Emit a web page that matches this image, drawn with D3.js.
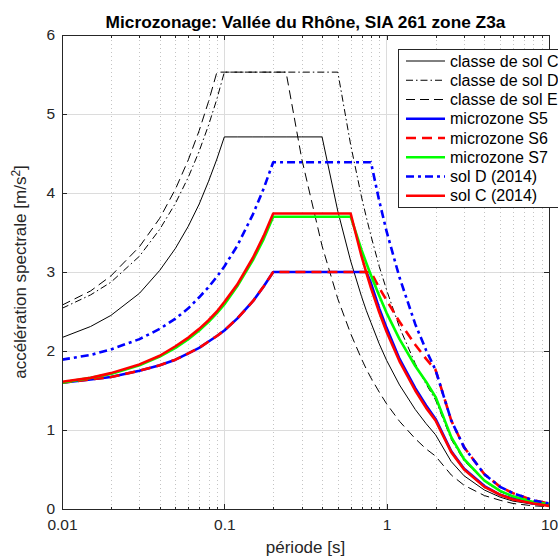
<!DOCTYPE html>
<html>
  <head>
    <meta charset="utf-8">
    <title>Microzonage: Vallée du Rhône</title>
    <script src="https://cdn.jsdelivr.net/npm/d3@7"></script>
    <style>
      body { margin: 0; background: #fff; }
      svg { display: block; font-family: "Liberation Sans", Arial, sans-serif; }
      .axis path, .axis line { stroke: #262626; shape-rendering: crispEdges; }
      .axis text { fill: #262626; font-size: 15.5px; font-family: "Liberation Sans", Arial, sans-serif; }
      .grid line { shape-rendering: crispEdges; }
      .label { fill: #262626; font-size: 17px; }
      .title { fill: #000; font-size: 17.3px; font-weight: bold; }
      .legend text { fill: #000; font-size: 16px; }
    </style>
  </head>
  <body>
    <svg id="chart" width="558" height="558"></svg>
    <script>
      // periods [s], shared by every spectrum
      const periods = [0.01, 0.015, 0.02, 0.03, 0.04, 0.05, 0.06, 0.07, 0.08, 0.09, 0.1, 0.12, 0.15, 0.175, 0.2, 0.24, 0.3, 0.4, 0.5, 0.6, 0.7, 0.75, 0.8, 0.9, 1.0, 1.2, 1.5, 1.75, 2.0, 2.5, 3, 4, 5, 6, 8, 10];
      // spectral accelerations [m/s2]
      const classeC = [2.17, 2.31, 2.45, 2.73, 3.02, 3.30, 3.58, 3.86, 4.15, 4.43, 4.71, 4.71, 4.71, 4.71, 4.71, 4.71, 4.71, 4.71, 3.77, 3.14, 2.69, 2.51, 2.36, 2.09, 1.88, 1.57, 1.26, 1.08, 0.94, 0.60, 0.42, 0.24, 0.15, 0.10, 0.06, 0.04];
      const classeD = [2.54, 2.71, 2.87, 3.20, 3.54, 3.87, 4.20, 4.53, 4.86, 5.19, 5.53, 5.53, 5.53, 5.53, 5.53, 5.53, 5.53, 5.53, 5.53, 4.61, 3.95, 3.69, 3.46, 3.07, 2.77, 2.30, 1.84, 1.58, 1.38, 0.88, 0.61, 0.35, 0.22, 0.15, 0.09, 0.06];
      const classeE = [2.58, 2.76, 2.95, 3.32, 3.68, 4.05, 4.42, 4.79, 5.16, 5.53, 5.53, 5.53, 5.53, 5.53, 5.53, 5.53, 4.43, 3.33, 2.66, 2.22, 1.90, 1.77, 1.66, 1.48, 1.33, 1.11, 0.89, 0.76, 0.67, 0.43, 0.30, 0.17, 0.11, 0.07, 0.04, 0.03];
      const microS5 = [1.60, 1.64, 1.67, 1.75, 1.82, 1.89, 1.97, 2.04, 2.12, 2.19, 2.26, 2.41, 2.63, 2.82, 3.00, 3.00, 3.00, 3.00, 3.00, 3.00, 3.00, 3.00, 2.86, 2.54, 2.29, 1.90, 1.53, 1.31, 1.14, 0.73, 0.51, 0.29, 0.18, 0.13, 0.07, 0.05];
      const microS6 = [1.60, 1.64, 1.67, 1.75, 1.82, 1.89, 1.97, 2.04, 2.12, 2.19, 2.26, 2.41, 2.63, 2.82, 3.00, 3.00, 3.00, 3.00, 3.00, 3.00, 3.00, 3.00, 3.00, 2.80, 2.64, 2.37, 2.08, 1.90, 1.76, 1.12, 0.78, 0.44, 0.28, 0.20, 0.11, 0.07];
      const microS7 = [1.60, 1.66, 1.71, 1.82, 1.93, 2.04, 2.15, 2.26, 2.37, 2.48, 2.59, 2.82, 3.15, 3.42, 3.70, 3.70, 3.70, 3.70, 3.70, 3.70, 3.28, 3.11, 2.96, 2.70, 2.48, 2.15, 1.81, 1.61, 1.42, 0.91, 0.63, 0.36, 0.23, 0.16, 0.09, 0.06];
      const solD2014 = [1.89, 1.95, 2.02, 2.15, 2.28, 2.41, 2.54, 2.68, 2.81, 2.94, 3.07, 3.33, 3.73, 4.06, 4.39, 4.39, 4.39, 4.39, 4.39, 4.39, 4.39, 4.39, 4.39, 3.90, 3.51, 2.93, 2.34, 2.01, 1.76, 1.12, 0.78, 0.44, 0.28, 0.20, 0.11, 0.07];
      const solC2014 = [1.61, 1.66, 1.72, 1.83, 1.94, 2.06, 2.17, 2.28, 2.39, 2.50, 2.62, 2.84, 3.18, 3.46, 3.74, 3.74, 3.74, 3.74, 3.74, 3.74, 3.20, 2.99, 2.80, 2.49, 2.24, 1.87, 1.50, 1.28, 1.12, 0.72, 0.50, 0.28, 0.18, 0.12, 0.07, 0.04];
      const seriesNames = ["classe de sol C", "classe de sol D", "classe de sol E", "microzone S5", "microzone S6", "microzone S7", "sol D (2014)", "sol C (2014)"];
      const xTicks = [0.01, 0.1, 1, 10];
      const xTickLabels = ["0.01", "0.1", "1", "10"];
      const yTicks = [0, 1, 2, 3, 4, 5, 6];

      const allSeries = [classeC, classeD, classeE, microS5, microS6, microS7, solD2014, solC2014];
      // line styles in plotting order
      const styles = [
        { color: "#000", width: 1, dash: null },
        { color: "#000", width: 1, dash: "7,3,1.5,3" },
        { color: "#000", width: 1, dash: "9,5" },
        { color: "#0000ff", width: 2.6, dash: null },
        { color: "#ff0000", width: 2.6, dash: "10,6" },
        { color: "#00ff00", width: 2.6, dash: null },
        { color: "#0000ff", width: 2.6, dash: "8,4,3,4" },
        { color: "#ff0000", width: 2.6, dash: null }
      ];

      chart = d3.select("#chart");
      margin = { top: 35, right: 9, bottom: 49, left: 62 };
      width = 558;
      height = 558;
      x = d3.scaleLog().domain([0.01, 10]).range([margin.left, width - margin.right]);
      y = d3.scaleLinear().domain([0, 6]).range([height - margin.bottom, margin.top]);
      minorTicks = x.ticks().filter(function(d) { return xTicks.indexOf(d) < 0; });

      // grid
      grid = chart.append("g").attr("class", "grid");
      grid.selectAll(".ygrid")
        .data(yTicks.slice(1, -1))
        .enter().append("line")
          .attr("x1", x.range()[0]).attr("x2", x.range()[1])
          .attr("y1", function(d) { return y(d); }).attr("y2", function(d) { return y(d); })
          .attr("stroke", "#dcdcdc");
      grid.selectAll(".xminor")
        .data(minorTicks)
        .enter().append("line")
          .attr("x1", function(d) { return Math.round(x(d)) + 0.5; }).attr("x2", function(d) { return Math.round(x(d)) + 0.5; })
          .attr("y1", y.range()[0]).attr("y2", y.range()[1])
          .attr("stroke", "#c4c4c4")
          .attr("stroke-dasharray", "1,3");
      grid.selectAll(".xmajor")
        .data(xTicks.slice(1, -1))
        .enter().append("line")
          .attr("x1", function(d) { return x(d); }).attr("x2", function(d) { return x(d); })
          .attr("y1", y.range()[0]).attr("y2", y.range()[1])
          .attr("stroke", "#dcdcdc");

      // curves
      chart.append("clipPath").attr("id", "plotClip")
        .append("rect")
          .attr("x", x.range()[0]).attr("y", y.range()[1])
          .attr("width", x.range()[1] - x.range()[0])
          .attr("height", y.range()[0] - y.range()[1]);
      line = d3.line()
        .x(function(d, i) { return x(periods[i]); })
        .y(function(d) { return y(d); });
      chart.append("g")
        .attr("clip-path", "url(#plotClip)")
        .selectAll("path")
        .data(allSeries)
        .enter().append("path")
          .attr("d", line)
          .attr("fill", "none")
          .attr("stroke", function(d, i) { return styles[i].color; })
          .attr("stroke-width", function(d, i) { return styles[i].width; })
          .attr("stroke-dasharray", function(d, i) { return styles[i].dash; })
          .attr("stroke-linejoin", "round");

      // axes with inward ticks on all four sides
      chart.append("g").attr("class", "axis")
        .attr("transform", "translate(0," + y.range()[0] + ")")
        .call(d3.axisBottom(x).tickValues(xTicks).tickSizeInner(-5).tickSizeOuter(0).tickPadding(10)
          .tickFormat(function(d, i) { return xTickLabels[i]; }));
      chart.append("g").attr("class", "axis")
        .attr("transform", "translate(0," + y.range()[0] + ")")
        .call(d3.axisBottom(x).tickValues(minorTicks).tickSizeInner(-2.5).tickSizeOuter(0).tickFormat(""));
      chart.append("g").attr("class", "axis")
        .attr("transform", "translate(0," + y.range()[1] + ")")
        .call(d3.axisTop(x).tickValues(xTicks).tickSizeInner(-5).tickSizeOuter(0).tickFormat(""));
      chart.append("g").attr("class", "axis")
        .attr("transform", "translate(0," + y.range()[1] + ")")
        .call(d3.axisTop(x).tickValues(minorTicks).tickSizeInner(-2.5).tickSizeOuter(0).tickFormat(""));
      chart.append("g").attr("class", "axis")
        .attr("transform", "translate(" + x.range()[0] + ",0)")
        .call(d3.axisLeft(y).tickValues(yTicks).tickSizeInner(-5).tickSizeOuter(0).tickPadding(7).tickFormat(d3.format("d")));
      chart.append("g").attr("class", "axis")
        .attr("transform", "translate(" + x.range()[1] + ",0)")
        .call(d3.axisRight(y).tickValues(yTicks).tickSizeInner(-5).tickSizeOuter(0).tickFormat(""));

      // labels
      chart.append("text").attr("class", "title")
        .attr("x", (x.range()[0] + x.range()[1]) / 2).attr("y", 28)
        .attr("text-anchor", "middle")
        .text("Microzonage: Vallée du Rhône, SIA 261 zone Z3a");
      chart.append("text").attr("class", "label")
        .attr("x", (x.range()[0] + x.range()[1]) / 2).attr("y", 553)
        .attr("text-anchor", "middle")
        .text("période [s]");
      ylabel = chart.append("text").attr("class", "label")
        .attr("transform", "translate(26," + (y.range()[0] + y.range()[1]) / 2 + ") rotate(-90)")
        .attr("text-anchor", "middle");
      ylabel.append("tspan").text("accélération spectrale [m/s");
      ylabel.append("tspan").attr("dy", -6).attr("font-size", "12px").text("2");
      ylabel.append("tspan").attr("dy", 6).text("]");

      // legend
      legend = chart.append("g").attr("class", "legend");
      legend.append("rect")
        .attr("x", 398.5).attr("y", 49.5)
        .attr("width", 175).attr("height", 158)
        .attr("fill", "#fff").attr("stroke", "#262626").attr("stroke-width", 1);
      rows = legend.selectAll(".row")
        .data(seriesNames)
        .enter().append("g")
          .attr("transform", function(d, i) { return "translate(0," + (61 + i * 19.25) + ")"; });
      rows.append("line")
        .attr("x1", 406).attr("x2", 445)
        .attr("stroke", function(d, i) { return styles[i].color; })
        .attr("stroke-width", function(d, i) { return styles[i].width; })
        .attr("stroke-dasharray", function(d, i) { return styles[i].dash; });
      rows.append("text")
        .attr("x", 450).attr("dy", "0.35em")
        .text(function(d) { return d; });
    </script>
  </body>
</html>
